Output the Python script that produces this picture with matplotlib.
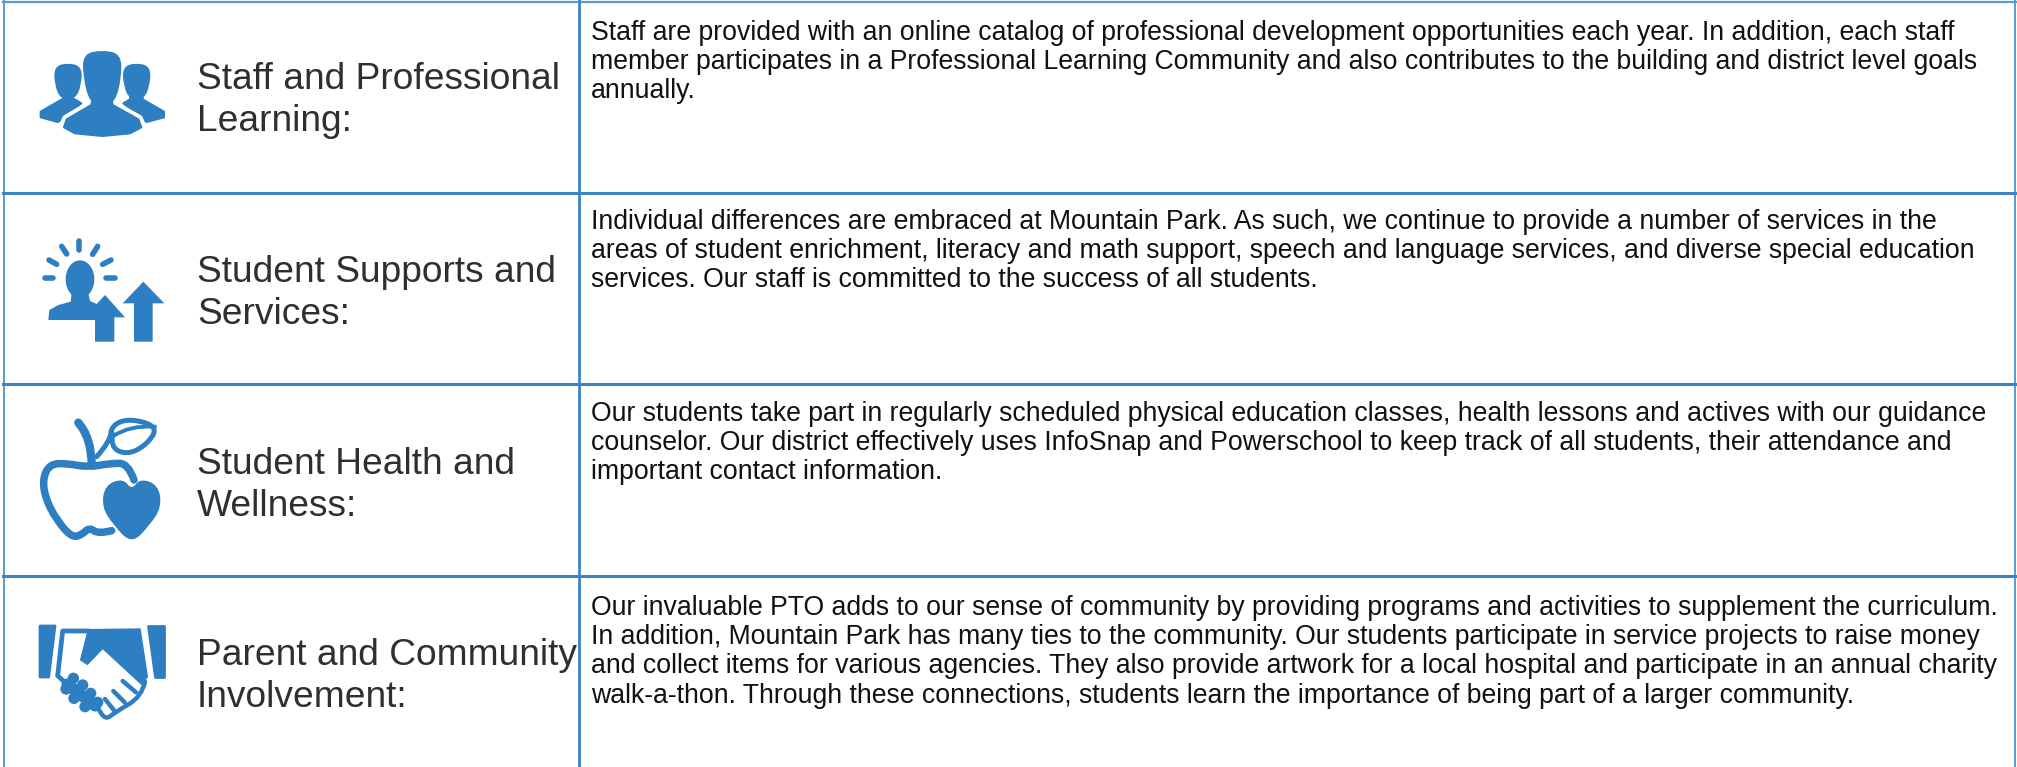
import matplotlib
matplotlib.use('Agg')
import matplotlib.pyplot as plt
from matplotlib.patches import Ellipse, PathPatch, Polygon
from matplotlib.path import Path

plt.rcParams['font.family'] = ['Liberation Sans', 'DejaVu Sans']

W, H = 2017, 767
BLUE = '#2e7ec2'
RULE = '#3c85c2'
EDGE = '#5b9bd0'
DARK = '#2f2f2f'
BLACK = '#111111'

row_lines = [193, 384, 576]
label_lines = [['Staff and Professional', 'Learning:'],
               ['Student Supports and', 'Services:'],
               ['Student Health and', 'Wellness:'],
               ['Parent and Community', 'Involvement:']]
label_base = [89, 282, 474, 665]
body_lines = [['Staff are provided with an online catalog of professional development opportunities each year. In addition, each staff',
               'member participates in a Professional Learning Community and also contributes to the building and district level goals',
               'annually.'],
              ['Individual differences are embraced at Mountain Park. As such, we continue to provide a number of services in the',
               'areas of student enrichment, literacy and math support, speech and language services, and diverse special education',
               'services. Our staff is committed to the success of all students.'],
              ['Our students take part in regularly scheduled physical education classes, health lessons and actives with our guidance',
               'counselor. Our district effectively uses InfoSnap and Powerschool to keep track of all students, their attendance and',
               'important contact information.'],
              ['Our invaluable PTO adds to our sense of community by providing programs and activities to supplement the curriculum.',
               'In addition, Mountain Park has many ties to the community. Our students participate in service projects to raise money',
               'and collect items for various agencies. They also provide artwork for a local hospital and participate in an annual charity',
               'walk-a-thon. Through these connections, students learn the importance of being part of a larger community.']]
body_base = [40, 229, 421, 615]


class Icon:
    def __init__(self, ax, x0, y0):
        self.ax, self.x0, self.y0 = ax, x0, y0

    def px(self, pts):
        return [(x / 3 + self.x0, y / 3 + self.y0) for x, y in pts]

    def poly(self, pts, zorder=3, edge='none', lw=0, fc=BLUE):
        self.ax.add_patch(Polygon(self.px(pts), closed=True, fc=fc, ec=edge, lw=lw, zorder=zorder, joinstyle='round'))

    def blob(self, pts, zorder=3):
        self.ax.add_patch(PathPatch(smooth_path(self.px(pts), True), fc=BLUE, ec='none', zorder=zorder))

    def stroke(self, pts, lw=3.4, zorder=3):
        p = self.px(pts)
        path = smooth_path(p, False) if len(p) > 2 else Path(p)
        self.ax.add_patch(PathPatch(path, fc='none', ec=BLUE, lw=lw, capstyle='round', joinstyle='round', zorder=zorder))

    def line(self, pts, lw=3.4, zorder=3):
        self.ax.add_patch(PathPatch(Path(self.px(pts)), fc='none', ec=BLUE, lw=lw, capstyle='round', joinstyle='round',
                                    zorder=zorder))

    def oval(self, x, y, w, h, zorder=3):
        c = self.px([(x, y)])[0]
        self.ax.add_patch(Ellipse(c, w / 3, h / 3, fc=BLUE, ec='none', zorder=zorder))


def smooth_path(pts, closed):
    if closed:
        start = ((pts[-1][0] + pts[0][0]) / 2, (pts[-1][1] + pts[0][1]) / 2)
        verts, codes = [start], [Path.MOVETO]
        for i, p in enumerate(pts):
            q = pts[(i + 1) % len(pts)]
            verts += [p, ((p[0] + q[0]) / 2, (p[1] + q[1]) / 2)]
            codes += [Path.CURVE3, Path.CURVE3]
    else:
        verts, codes = [pts[0]], [Path.MOVETO]
        for i in range(1, len(pts) - 1):
            p, q = pts[i], pts[i + 1]
            end = q if i == len(pts) - 2 else ((p[0] + q[0]) / 2, (p[1] + q[1]) / 2)
            verts += [p, end]
            codes += [Path.CURVE3, Path.CURVE3]
    return Path(verts, codes)


def draw_people(ax):
    ic = Icon(ax, 30, 40)
    for cx, s in ((114, -1), (320, 1)):
        ic.blob([(cx, 68), (cx - 42, 80), (cx - 40, 135), (cx - 22, 178), (cx + 22, 178), (cx + 40, 135),
                 (cx + 42, 80)])
        ic.poly([(cx - 18, 160), (cx + 18, 160), (cx + 18 * s, 178), (cx + 82 * s, 215), (cx + 82 * s, 232),
                 (cx + 30 * s, 246), (cx - 40 * s, 190), (cx - 20 * s, 178)], edge=BLUE, lw=1.5)
    body = [(190, 170), (242, 170), (248, 195), (325, 238), (334, 262), (300, 280), (217, 288), (135, 280),
            (102, 262), (110, 238), (184, 195)]
    ic.poly(body, zorder=4, edge='white', lw=7, fc='white')
    ic.poly(body, zorder=5, edge=BLUE, lw=1.5)
    ic.blob([(217, 30), (158, 42), (160, 115), (178, 185), (217, 205), (256, 185), (274, 115), (274, 42)], zorder=6)


def draw_bulb(ax):
    ic = Icon(ax, 30, 230)
    rays = [[(148, 34), (148, 60)], [(95, 49), (110, 72)], [(203, 49), (188, 73)], [(57, 90), (80, 103)],
            [(243, 90), (218, 103)], [(44, 145), (70, 145)], [(228, 145), (256, 145)]]
    for r in rays:
        ic.line(r, lw=4.0)
    ic.oval(150, 148, 86, 114)
    ic.poly([(125, 190), (175, 190), (180, 213), (200, 222), (225, 195), (285, 262), (253, 262), (253, 335),
             (195, 335), (195, 270), (55, 270), (58, 240), (85, 225), (122, 215)])
    ic.poly([(340, 155), (403, 220), (368, 220), (368, 335), (312, 335), (312, 220), (278, 220)])


def draw_apple(ax):
    ic = Icon(ax, 30, 410)
    ic.stroke([(312, 210), (295, 160), (240, 160), (175, 172), (110, 160), (60, 162), (38, 205), (46, 265),
               (80, 330), (125, 382), (155, 375), (178, 352), (205, 372), (245, 362)], lw=5.4)
    ic.stroke([(145, 38), (185, 85), (185, 165)], lw=6.0)
    ic.stroke([(200, 140), (240, 95), (245, 45), (300, 25), (385, 50), (350, 105), (290, 135), (240, 110),
               (248, 72)], lw=3.6)
    ic.stroke([(250, 78), (300, 45), (375, 50)], lw=2.8)
    ic.blob([(305, 240), (280, 205), (225, 225), (215, 290), (250, 345), (305, 402), (360, 345), (395, 290),
             (385, 225), (330, 205)])


def draw_hands(ax):
    ic = Icon(ax, 30, 615)
    ic.poly([(30, 33), (75, 33), (56, 186), (30, 186)], edge=BLUE, lw=2)
    ic.poly([(355, 33), (401, 33), (401, 186), (375, 186)], edge=BLUE, lw=2)
    ic.poly([(175, 44), (330, 42), (352, 185), (335, 208), (218, 100), (172, 148), (152, 135)], edge=BLUE, lw=1)
    ic.line([(178, 48), (98, 48), (83, 182), (115, 212)], lw=3.4)
    # knuckles of the lower hand
    ic.line([(112, 208), (195, 272)], lw=8.5)
    for kx, ky in [(130, 190), (158, 210), (182, 235), (203, 262), (108, 222), (132, 250), (165, 275)]:
        ic.oval(kx, ky, 34, 34)
    ic.stroke([(205, 280), (222, 318), (258, 290), (335, 245), (345, 200)], lw=3.2)
    for f in [[(278, 198), (318, 232)], [(250, 228), (284, 262)], [(225, 252), (252, 286)]]:
        ic.line(f, lw=3.2)


def run():
    fig = plt.figure(figsize=(W / 100, H / 100), dpi=100, facecolor='white')
    ax = fig.add_axes([0, 0, 1, 1])
    ax.set_xlim(0, W)
    ax.set_ylim(H, 0)
    ax.axis('off')

    # table rules
    ax.plot([3.5, 3.5], [0, H], color=EDGE, lw=1.4)
    ax.plot([2015, 2015], [0, H], color=EDGE, lw=1.4)
    ax.plot([3, 2016], [2, 2], color=EDGE, lw=1.6)
    ax.plot([579, 579], [0, H], color=RULE, lw=2)
    for y in row_lines:
        ax.plot([3, 2016], [y, y], color=RULE, lw=2.2)

    for lines, base in zip(label_lines, label_base):
        for i, s in enumerate(lines):
            ax.text(197, base + i * 42, s, fontsize=26.7, color=DARK, va='baseline', ha='left')
    for lines, base in zip(body_lines, body_base):
        for i, s in enumerate(lines):
            ax.text(591, base + i * 29.2, s, fontsize=19.2, color=BLACK, va='baseline', ha='left')

    draw_people(ax)
    draw_bulb(ax)
    draw_apple(ax)
    draw_hands(ax)

    fig.savefig('out.png', dpi=100)


if __name__ == '__main__':
    run()
